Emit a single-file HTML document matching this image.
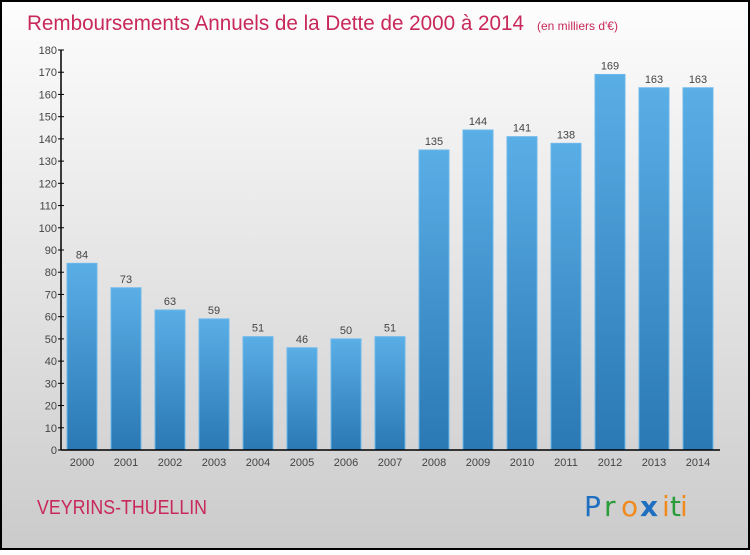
<!DOCTYPE html>
<html><head><meta charset="utf-8">
<style>
html,body{margin:0;padding:0}
body{width:750px;height:550px;overflow:hidden;font-family:"Liberation Sans",sans-serif}
</style></head>
<body>
<svg id="chart" width="750" height="550" xmlns="http://www.w3.org/2000/svg">
<defs>
<linearGradient id="bg" x1="0" y1="0" x2="0" y2="1">
<stop offset="0" stop-color="#fdfdfd"/><stop offset="1" stop-color="#cbcbcb"/>
</linearGradient>
<linearGradient id="bar" x1="0" y1="0" x2="0" y2="1">
<stop offset="0" stop-color="#5aaee6"/><stop offset="1" stop-color="#2a78b4"/>
</linearGradient>
</defs>
<rect x="1" y="1" width="748" height="548" fill="url(#bg)" stroke="#000" stroke-width="2"/>
<text x="27" y="30" font-size="21" fill="#c8285a" textLength="497" lengthAdjust="spacingAndGlyphs">Remboursements Annuels de la Dette de 2000 à 2014</text>
<text x="537" y="30" font-size="12" fill="#c8285a">(en milliers d'€)</text>
<g id="yaxis"></g>
<g id="bars"></g>
<g id="xaxis"></g>
<text x="37" y="514" font-size="20" fill="#c8285a" textLength="170" lengthAdjust="spacingAndGlyphs">VEYRINS-THUELLIN</text>
<g font-size="28" font-family="'DejaVu Sans',sans-serif">
<text x="584" y="516" fill="#1f6fc0">P</text><text x="604" y="516" fill="#2a9d3a">r</text><text x="621" y="516" fill="#f08a1c">o</text><text x="640" y="516" fill="#1f6fc0" font-weight="bold">x</text><text x="662" y="516" fill="#f08a1c">i</text><text x="670" y="516" fill="#2a9d3a">t</text><text x="680" y="516" fill="#f08a1c">i</text>
</g>
</svg>
<script>
const categories=["2000","2001","2002","2003","2004","2005","2006","2007","2008","2009","2010","2011","2012","2013","2014"];
const values=[84,73,63,59,51,46,50,51,135,144,141,138,169,163,163];
const yTicks=[0,10,20,30,40,50,60,70,80,90,100,110,120,130,140,150,160,170,180];
const NS="http://www.w3.org/2000/svg";
const y0=450,yTop=50,yMax=180,x0=61,x1=720,step=44,firstC=82,bw=30;
function ys(v){return y0-(v/yMax)*(y0-yTop);}
function xs(i){return firstC+i*step;}
function mk(t,a,p,txt){const e=document.createElementNS(NS,t);for(const k in a)e.setAttribute(k,a[k]);if(txt!==undefined)e.textContent=txt;p.appendChild(e);return e;}
const ya=document.getElementById('yaxis'),ba=document.getElementById('bars'),xa=document.getElementById('xaxis');
yTicks.forEach(v=>{
  const t=mk('line',{x1:x0-3,x2:x0+3,y1:ys(v),y2:ys(v),stroke:'#000'},ya);
  
  
  const l=mk('text',{x:x0-4,y:ys(v)+4,'font-size':11,'text-anchor':'end',fill:'#444'},ya,String(v));
  
  
});
values.forEach((v,i)=>{
  const r=mk('rect',{x:xs(i)-bw/2,y:ys(v),width:bw,height:y0-ys(v),fill:'url(#bar)',stroke:'#6cb8ec','stroke-width':1},ba);
  
  
  const l=mk('text',{x:xs(i),y:ys(v)-5,'font-size':11,'text-anchor':'middle',fill:'#444'},ba,String(v));
  
  
  const c=mk('text',{x:xs(i),y:y0+16,'font-size':11,'text-anchor':'middle',fill:'#444'},xa,categories[i]);
  
  
});
const va=mk('line',{x1:x0,x2:x0,y1:yTop,y2:y0,stroke:'#000','stroke-width':1.5},ya);


const ha=mk('line',{x1:x0,x2:x1,y1:y0,y2:y0,stroke:'#000','stroke-width':1.5},xa);


</script>
</body></html>
